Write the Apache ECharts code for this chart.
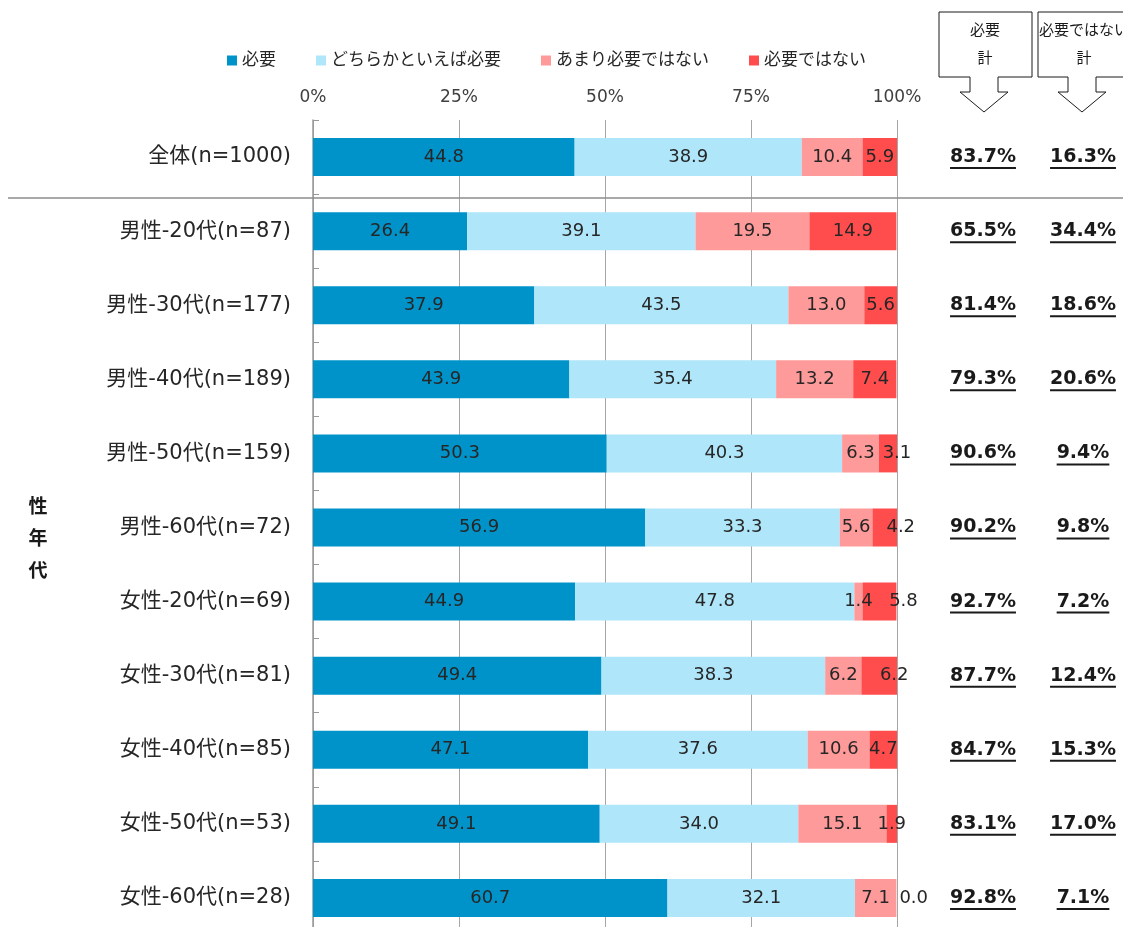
<!DOCTYPE html>
<html>
<head>
<meta charset="utf-8">
<script src="https://cdn.jsdelivr.net/npm/echarts@6/dist/echarts.min.js"></script>
<style>
html,body{margin:0;padding:0;background:#fff;overflow:hidden;}
#chart{width:1123px;height:940px;}
</style>
</head>
<body>
<div id="chart"></div>
<script>
const categories = ['全体(n=1000)','男性-20代(n=87)','男性-30代(n=177)','男性-40代(n=189)','男性-50代(n=159)','男性-60代(n=72)','女性-20代(n=69)','女性-30代(n=81)','女性-40代(n=85)','女性-50代(n=53)','女性-60代(n=28)'];
const seriesNames = ['必要','どちらかといえば必要','あまり必要ではない','必要ではない'];
const hitsuyou      = [44.8, 26.4, 37.9, 43.9, 50.3, 56.9, 44.9, 49.4, 47.1, 49.1, 60.7];
const dochiraka     = [38.9, 39.1, 43.5, 35.4, 40.3, 33.3, 47.8, 38.3, 37.6, 34.0, 32.1];
const amari         = [10.4, 19.5, 13.0, 13.2, 6.3, 5.6, 1.4, 6.2, 10.6, 15.1, 7.1];
const hitsuyouNai   = [5.9, 14.9, 5.6, 7.4, 3.1, 4.2, 5.8, 6.2, 4.7, 1.9, 0.0];
const needTotal     = [83.7, 65.5, 81.4, 79.3, 90.6, 90.2, 92.7, 87.7, 84.7, 83.1, 92.8];
const notNeedTotal  = [16.3, 34.4, 18.6, 20.6, 9.4, 9.8, 7.2, 12.4, 15.3, 17.0, 7.1];
const xTicks = [0, 25, 50, 75, 100];

// label nudges (style only) for the last segment, copied from the reference layout
const lastLabelShift = [0, 0, 0, 0, 9, 16, 24, 15, 0, 0, 0];

const FONT = "'DejaVu Sans','Noto Sans CJK JP',sans-serif";
const colors = ['#0093C9', '#AFE6FA', '#FF9A9A', '#FF4D4D'];
const values = [hitsuyou, dochiraka, amari, hitsuyouNai];

const measureCtx = document.createElement('canvas').getContext('2d');
function textWidth(t, font) { measureCtx.font = font; return measureCtx.measureText(t).width; }

const chart = echarts.init(document.getElementById('chart'), null, {renderer: 'canvas'});

const barSeries = values.map((arr, si) => ({
  name: seriesNames[si],
  type: 'bar',
  stack: 'total',
  barWidth: 38,
  itemStyle: {color: colors[si]},
  label: {
    show: true,
    position: 'inside',
    fontFamily: FONT,
    fontSize: 18,
    color: '#262626',
    formatter: p => Number(p.value).toFixed(1)
  },
  data: arr.map((v, i) => {
    if (v === 0) return {value: v, label: {position: 'right', distance: 3}};
    if (si === 3 && lastLabelShift[i]) return {value: v, label: {offset: [lastLabelShift[i], 0]}};
    return v;
  })
}));

const totalsSeries = {
  type: 'custom',
  clip: false,
  silent: true,
  encode: {x: 0, y: 1},
  data: categories.map((c, i) => [0, i, needTotal[i], notNeedTotal[i]]),
  renderItem: (params, api) => {
    const y = api.coord([0, api.value(1)])[1];
    const font = 'bold 19px ' + FONT;
    const items = [[983, api.value(2)], [1083, api.value(3)]];
    const children = [];
    items.forEach(([cx, v]) => {
      const t = v.toFixed(1) + '%';
      const w = textWidth(t, font);
      children.push({
        type: 'text',
        style: {text: t, x: cx, y: y, align: 'center', verticalAlign: 'middle', font: font, fill: '#1a1a1a'}
      });
      children.push({
        type: 'rect',
        shape: {x: cx - w / 2, y: y + 10, width: w, height: 2},
        style: {fill: '#1a1a1a'}
      });
    });
    return {type: 'group', children};
  }
};

const boxStyle = {fill: '#fff', stroke: '#1a1a1a', lineWidth: 1};

chart.setOption({
  animation: false,
  backgroundColor: '#fff',
  legend: {
    data: seriesNames,
    left: 222,
    top: 47,
    icon: 'rect',
    itemWidth: 10,
    itemHeight: 10,
    itemGap: 40,
    textStyle: {fontFamily: FONT, fontSize: 17, color: '#262626'}
  },
  grid: {left: 313, right: 226, top: 120, height: 815, containLabel: false},
  xAxis: {
    type: 'value',
    position: 'top',
    min: 0,
    max: 100,
    interval: 25,
    axisLine: {show: false},
    axisTick: {show: false},
    axisLabel: {
      fontFamily: FONT, fontSize: 17, color: '#404040', margin: 14,
      formatter: v => xTicks.includes(v) ? v + '%' : ''
    },
    splitLine: {lineStyle: {color: '#a6a6a6', width: 1}}
  },
  yAxis: {
    type: 'category',
    inverse: true,
    data: categories,
    axisLine: {show: true, lineStyle: {color: '#999', width: 1.5}},
    axisTick: {show: true, inside: true, length: 6, lineStyle: {color: '#999'}},
    axisLabel: {fontFamily: FONT, fontSize: 21, color: '#262626', margin: 22}
  },
  series: barSeries.concat([totalsSeries]),
  graphic: [
    {type: 'line', z: 100, shape: {x1: 8, y1: 198, x2: 1123, y2: 198}, style: {stroke: '#8c8c8c', lineWidth: 1.5}},
    {type: 'polygon', shape: {points: [[939,12],[1032,12],[1032,77],[998,77],[998,92],[1008,92],[984,112],[960,92],[970,92],[970,77],[939,77]]}, style: boxStyle},
    {type: 'polygon', shape: {points: [[1038,12],[1135,12],[1135,77],[1096,77],[1096,92],[1106,92],[1082,112],[1058,92],[1068,92],[1068,77],[1038,77]]}, style: boxStyle},
    {type: 'text', style: {text: '必要', x: 985, y: 31, align: 'center', verticalAlign: 'middle', font: '15px ' + FONT, fill: '#1a1a1a'}},
    {type: 'text', style: {text: '計', x: 985, y: 59, align: 'center', verticalAlign: 'middle', font: '15px ' + FONT, fill: '#1a1a1a'}},
    {type: 'text', style: {text: '必要ではない', x: 1084, y: 31, align: 'center', verticalAlign: 'middle', font: '15px ' + FONT, fill: '#1a1a1a'}},
    {type: 'text', style: {text: '計', x: 1084, y: 59, align: 'center', verticalAlign: 'middle', font: '15px ' + FONT, fill: '#1a1a1a'}},
    {type: 'text', style: {text: '性\n年\n代', x: 38, y: 540, align: 'center', verticalAlign: 'middle', lineHeight: 32, font: 'bold 19px ' + FONT, fill: '#1a1a1a'}}
  ]
});
</script>
</body>
</html>
